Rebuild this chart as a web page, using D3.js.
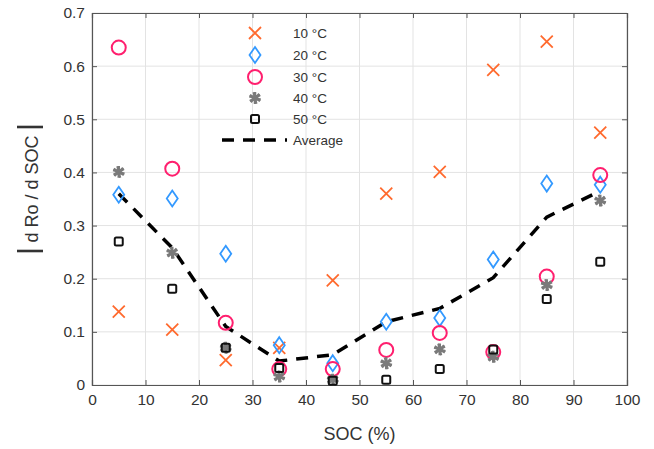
<!DOCTYPE html>
<html><head><meta charset="utf-8">
<script src="https://cdn.jsdelivr.net/npm/d3@7"></script>
<style>body{margin:0;background:#fff}svg{display:block}text{font-family:Helvetica,Arial,"Liberation Sans",sans-serif}</style>
</head><body><svg id="c" width="654" height="449"></svg>
<script>
const soc = [5,15,25,35,45,55,65,75,85,95];
const t10 = [0.138,0.104,0.047,0.070,0.197,0.360,0.401,0.593,0.646,0.475];
const t20 = [0.358,0.351,0.247,0.075,0.041,0.119,0.126,0.236,0.379,0.377];
const t30 = [0.635,0.407,0.117,0.030,0.030,0.066,0.098,0.062,0.204,0.395];
const t40 = [0.401,0.249,0.070,0.016,0.010,0.041,0.067,0.053,0.188,0.347];
const t50 = [0.270,0.181,0.070,0.032,0.008,0.010,0.030,0.067,0.162,0.232];
const avg = [0.360,0.258,0.110,0.045,0.057,0.119,0.144,0.202,0.316,0.365];
const xTicks = [0,10,20,30,40,50,60,70,80,90,100];
const yTicks = [0,0.1,0.2,0.3,0.4,0.5,0.6,0.7];
const labels = ["10 °C","20 °C","30 °C","40 °C","50 °C","Average"];

const svg = d3.select("#c");
const L=92,R=627,T=13,B=385;
const x = d3.scaleLinear().domain([0,100]).range([L,R]);
const y = d3.scaleLinear().domain([0,0.7]).range([B,T]);

// grid
const g = svg.append("g");
g.selectAll(".gx").data(xTicks).join("line").attr("x1",d=>x(d)).attr("x2",d=>x(d)).attr("y1",T).attr("y2",B).attr("stroke","#e3e3e3").attr("stroke-width",1);
g.selectAll(".gy").data(yTicks).join("line").attr("y1",d=>y(d)).attr("y2",d=>y(d)).attr("x1",L).attr("x2",R).attr("stroke","#e3e3e3").attr("stroke-width",1);

// axes
const ax = svg.append("g").attr("transform",`translate(0,${B})`).call(d3.axisBottom(x).tickValues(xTicks).tickSize(-5).tickPadding(9).tickFormat(d3.format("d")));
const ay = svg.append("g").attr("transform",`translate(${L},0)`).call(d3.axisLeft(y).tickValues(yTicks).tickSize(-5).tickPadding(7).tickFormat(d=>d===0?"0":d3.format(".1f")(d)));
const axT = svg.append("g").attr("transform",`translate(0,${T})`).call(d3.axisTop(x).tickValues(xTicks).tickSize(-5).tickFormat(""));
const ayR = svg.append("g").attr("transform",`translate(${R},0)`).call(d3.axisRight(y).tickValues(yTicks).tickSize(-5).tickFormat(""));
[ax,ay,axT,ayR].forEach(a=>{a.select(".domain").attr("stroke","#555").attr("stroke-width",1.2);a.selectAll(".tick line").attr("stroke","#555");a.selectAll("text").attr("fill","#333").style("font-size","15.5px");});

// average line
svg.append("path").datum(soc.map((s,i)=>[s,avg[i]]))
  .attr("d",d3.line().x(d=>x(d[0])).y(d=>y(d[1])))
  .attr("fill","none").attr("stroke","#000").attr("stroke-width",3.5).attr("stroke-dasharray","12,9");

function mark(sel,type,color){
  if(type==="x"){
    sel.append("path").attr("d","M-6,-6L6,6M-6,6L6,-6").attr("stroke",color).attr("stroke-width",1.8).attr("fill","none");
  } else if(type==="d"){
    sel.append("path").attr("d","M0,-8L5.5,0L0,8L-5.5,0Z").attr("stroke",color).attr("stroke-width",1.8).attr("fill","none");
  } else if(type==="o"){
    sel.append("circle").attr("r",7).attr("stroke",color).attr("stroke-width",2).attr("fill","none");
  } else if(type==="s"){
    sel.append("path").attr("d",d3.symbol(d3.symbolAsterisk,100)()).attr("stroke",color).attr("stroke-width",2.5).attr("fill","none");
    sel.append("path").attr("d",d3.symbol(d3.symbolAsterisk,100)()).attr("transform","rotate(45)").attr("stroke",color).attr("stroke-width",2).attr("fill","none");
    sel.append("circle").attr("r",3).attr("fill",color);
  } else if(type==="q"){
    sel.append("rect").attr("x",-4).attr("y",-4).attr("width",8).attr("height",8).attr("rx",1.5).attr("stroke",color).attr("stroke-width",2).attr("fill","none");
  }
}
const series = [
  {v:t10,type:"x",c:"#ff6a2e"},
  {v:t20,type:"d",c:"#3399ff"},
  {v:t30,type:"o",c:"#ff1f6e"},
  {v:t40,type:"s",c:"#7a7a7a"},
  {v:t50,type:"q",c:"#111"}
];
series.forEach(s=>{
  svg.append("g").selectAll("g").data(s.v).join("g")
    .attr("transform",(d,i)=>`translate(${x(soc[i])},${y(d)})`)
    .each(function(){mark(d3.select(this),s.type,s.c);});
});

// legend
const ly = [33,55,77,98,119,140];
series.forEach((s,i)=>{
  const gg = svg.append("g").attr("transform",`translate(255,${ly[i]})`);
  mark(gg,s.type,s.c);
});
svg.append("line").attr("x1",222).attr("x2",287).attr("y1",ly[5]).attr("y2",ly[5]).attr("stroke","#000").attr("stroke-width",3.5).attr("stroke-dasharray","12,9");
labels.forEach((t,i)=>{
  svg.append("text").attr("x",293).attr("y",ly[i]+5).text(t).attr("fill","#333").style("font-size","13.5px");
});

// axis labels
svg.append("text").attr("x",x(50)).attr("y",440).attr("text-anchor","middle").text("SOC (%)").attr("fill","#333").style("font-size","18px");
svg.append("text").attr("transform","translate(38,189) rotate(-90)").attr("text-anchor","middle").text("d Ro / d SOC").attr("fill","#333").style("font-size","18px");
[127,251].forEach(yy=>svg.append("line").attr("x1",17).attr("x2",43).attr("y1",yy).attr("y2",yy).attr("stroke","#333").attr("stroke-width",2.6));
</script></body></html>
